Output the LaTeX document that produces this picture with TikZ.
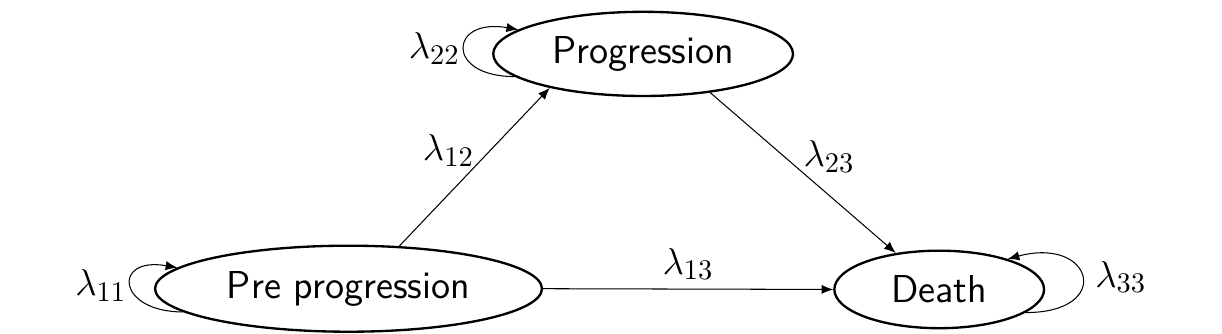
\documentclass[tikz,border=0pt]{standalone}
\usepackage{tikz}
\usetikzlibrary{arrows.meta,shapes.geometric}
\newcommand{\labelsize}{\fontsize{15}{18}\selectfont}
\tikzset{
  state/.style ={draw, ellipse, line width=0.9pt, inner sep=3pt,
                 font=\sffamily\labelsize},
  ar/.style    ={-{Latex[length=4.5pt,width=3.6pt]}, line width=0.4pt},
  lam/.style   ={font=\labelsize, inner sep=0pt},
  lamloop/.style={font=\labelsize, inner sep=1.5pt}
}
\begin{document}
\begin{tikzpicture}
\useasboundingbox (0,0) rectangle (16.55,-4.51);
\node[state, minimum width=5.24cm, minimum height=1.165cm] (pre) at (4.72,-3.91)
  {Pre progression};
\node[state, minimum width=4.06cm, minimum height=1.14cm] (prog) at (8.71,-0.73)
  {Progression};
\node[state, minimum width=2.84cm, minimum height=1.05cm] (death) at (12.72,-3.92)
  {Death};

\draw[ar] (pre.40) -- node[lam,midway,above left]{$\lambda_{12}$} (prog.200);
\draw[ar] (prog.-30) -- node[lam,midway,above right]{$\lambda_{23}$} (death.140);
\draw[ar] (pre.east) -- node[font=\labelsize,midway,above]{$\lambda_{13}$} (death.west);

% loops
\draw[ar] (pre.188) to[out=180,in=170,looseness=3.8]
  node[lamloop,midway,left]{$\lambda_{11}$} (pre.173);
\draw[ar] (prog.190) to[out=180,in=170,looseness=3.8]
  node[lamloop,midway,left]{$\lambda_{22}$} (prog.169);
\draw[ar] (death.-15) to[out=0,in=15,looseness=4]
  node[font=\labelsize,midway,right,inner sep=5pt]{$\lambda_{33}$} (death.24);
\end{tikzpicture}
\end{document}
